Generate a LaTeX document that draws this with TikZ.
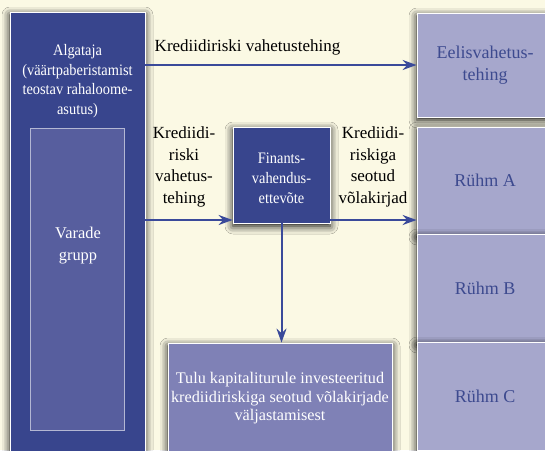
\documentclass[tikz,border=0pt]{standalone}
\usepackage{fontspec}
\setmainfont{Liberation Serif}
\newfontfamily\narrowfont[FakeStretch=0.9]{Liberation Serif}
\usetikzlibrary{arrows.meta,positioning,shadows.blur}
\definecolor{bgcream}{HTML}{FBF9E4}
\definecolor{darkblue}{HTML}{38458D}
\definecolor{midblue}{HTML}{575E9E}
\definecolor{lavender}{HTML}{A6A7CC}
\definecolor{tulublue}{HTML}{7F81B6}
\definecolor{arrblue}{HTML}{3A4A9A}
\definecolor{txtblue}{HTML}{3D4A8F}
\begin{document}
\begin{tikzpicture}[x=1pt, y=-1pt, >={Stealth[length=14pt,width=10pt]},
   font=\fontsize{14.5}{20}\selectfont,
   box/.style={rectangle, draw=white, line width=0.8pt, inner sep=0pt, align=center,
     blur shadow={shadow xshift=0pt, shadow yshift=-3pt, shadow blur radius=8pt, shadow opacity=100}},
   dbox/.style={box, fill=darkblue, text=white},
   lbox/.style={box, fill=lavender, text=txtblue, font=\fontsize{18}{22}\selectfont},
   lbl/.style={align=center, inner sep=0pt, font=\fontsize{17}{21.7}\selectfont},
   wtxt/.style={text=white, align=center, inner sep=0pt},
   arr/.style={->, draw=arrblue, line width=2pt}]
\useasboundingbox (0,0) rectangle (545,450);
\fill[bgcream] (0,0) rectangle (545,450);
% left column
\node[dbox, minimum width=135pt, minimum height=460pt] (alg) at (77.5,242) {};
\node[wtxt, font=\narrowfont\fontsize{16}{19.5}\selectfont] (algtxt) at (77.5,81)
   {Algataja\\(väärtpaberistamist\\teostav rahaloome-\\asutus)};
\node[rectangle, draw=white!55!midblue, line width=0.8pt, fill=midblue,
   minimum width=94pt, minimum height=302pt] (varade) at (77,279) {};
\node[wtxt, font=\fontsize{16.4}{22}\selectfont] (varadetxt) at (78,246) {Varade\\grupp};
% right column
\node[lbox, minimum width=136pt, minimum height=104pt] (eel) at (485,65) {Eelisvahetus-\\tehing};
\node[lbox, minimum width=136pt, minimum height=107pt] (grpA) at (485,180.5) {Rühm A};
\node[lbox, minimum width=136pt, minimum height=108pt] (grpB) at (485,288) {Rühm B};
\node[lbox, minimum width=136pt, minimum height=108pt] (grpC) at (485,396) {Rühm C};
% middle
\node[dbox, minimum width=97pt, minimum height=96pt] (fin) at (281.5,175) {};
\node[wtxt, font=\narrowfont\fontsize{16}{20}\selectfont] (fintxt) at (281.5,178)
   {Finants-\\vahendus-\\ettevõte};
\node[box, fill=tulublue, minimum width=224pt, minimum height=110pt] (tulu) at (280,398) {};
\node[wtxt, font=\fontsize{16.2}{18.5}\selectfont] (tulutxt) at (280,398.5)
   {Tulu kapitaliturule investeeritud\\krediidiriskiga seotud võlakirjade\\väljastamisest};
% labels
\node[lbl] (lbltop) at (247.5,47) {Krediidiriski vahetustehing};
\node[lbl] (lblleft) at (184,167) {Krediidi-\\riski\\vahetus-\\tehing};
\node[lbl] (lblright) at (373,167) {Krediidi-\\riskiga\\seotud\\võlakirjad};
% arrows
\draw[arr] (alg.east |- eel.west) -- (eel.west);
\draw[arr] (alg.east |- 0,220) -- (fin.west |- 0,220);
\draw[arr] (fin.east |- 0,220) -- (grpA.west |- 0,220);
\draw[arr] (fin.south) -- (fin.south |- tulu.north);
\end{tikzpicture}
\end{document}
